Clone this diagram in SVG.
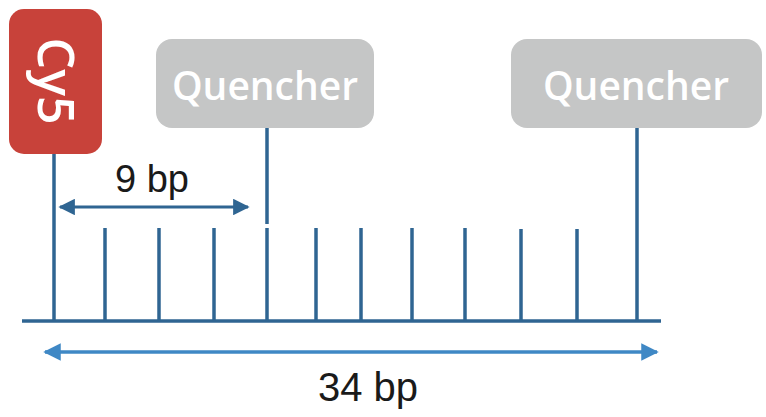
<svg xmlns="http://www.w3.org/2000/svg" width="766" height="417" viewBox="0 0 766 417">
<defs>
<style>
.ln{stroke:#2f6592;stroke-width:3.5;fill:none}
.lbl{font-family:"Open Sans","Liberation Sans",sans-serif;font-weight:600;fill:#fff}
.dim{font-family:"Liberation Sans",Arial,sans-serif;fill:#1a1a1a}
</style>
<marker id="ad" viewBox="0 0 10 10" refX="9" refY="5" markerWidth="5.5" markerHeight="5.5" orient="auto-start-reverse" markerUnits="strokeWidth"><path d="M0,0L10,5L0,10z" fill="#2f6592"/></marker>
<marker id="al" viewBox="0 0 10 10" refX="9" refY="5" markerWidth="5" markerHeight="5" orient="auto-start-reverse" markerUnits="strokeWidth"><path d="M0,0L10,5L0,10z" fill="#3f88c5"/></marker>
</defs>
<rect width="766" height="417" fill="#fff"/>
<g id="connectors">
<line class="ln" x1="22" y1="321" x2="661" y2="321" stroke-width="4"/>
<line class="ln" x1="54" y1="150" x2="54" y2="321"/>
<line class="ln" x1="267" y1="126" x2="267" y2="224"/>
<line class="ln" x1="267" y1="228" x2="267" y2="321"/>
<line class="ln" x1="637" y1="126" x2="637" y2="321"/>
<g class="ln" stroke-width="3">
<line x1="105" y1="228" x2="105" y2="321"/>
<line x1="159" y1="228" x2="159" y2="321"/>
<line x1="214" y1="228" x2="214" y2="321"/>
<line x1="316" y1="228" x2="316" y2="321"/>
<line x1="361" y1="228" x2="361" y2="321"/>
<line x1="412" y1="228" x2="412" y2="321"/>
<line x1="465" y1="228" x2="465" y2="321"/>
<line x1="521" y1="229" x2="521" y2="321"/>
<line x1="577" y1="229" x2="577" y2="321"/>
</g>
<line x1="60" y1="207" x2="248" y2="207" stroke="#2f6592" stroke-width="3" marker-start="url(#ad)" marker-end="url(#ad)"/>
<line x1="45" y1="352" x2="657" y2="352" stroke="#3f88c5" stroke-width="3.5" marker-start="url(#al)" marker-end="url(#al)"/>
</g>
<g id="cy5">
<rect x="9" y="9" width="93" height="145" rx="15" fill="#c8423a"/>
<text class="lbl" x="0" y="0" font-size="50" text-anchor="middle" transform="translate(38,81) rotate(90)">Cy5</text>
</g>
<g id="quencher1">
<rect x="156" y="39" width="218" height="89" rx="16" fill="#c5c6c6"/>
<text class="lbl" x="265" y="100" font-size="39" text-anchor="middle">Quencher</text>
</g>
<g id="quencher2">
<rect x="511" y="39" width="251" height="89" rx="16" fill="#c5c6c6"/>
<text class="lbl" x="636" y="100" font-size="39" text-anchor="middle">Quencher</text>
</g>
<text class="dim" x="152" y="192" font-size="38" text-anchor="middle">9 bp</text>
<text class="dim" x="368" y="401" font-size="40" text-anchor="middle">34 bp</text>
</svg>
